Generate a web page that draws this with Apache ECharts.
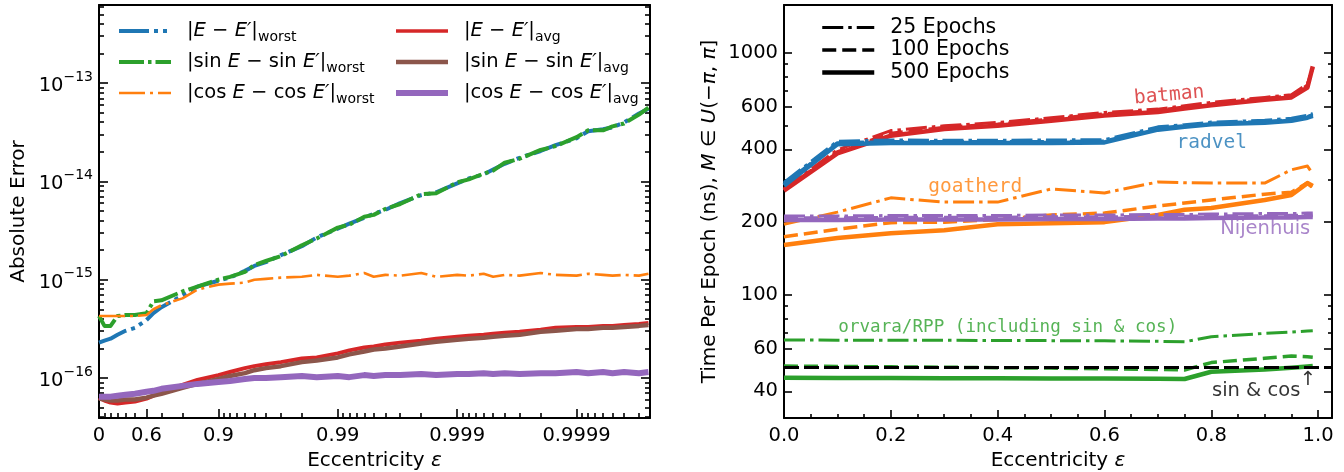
<!DOCTYPE html>
<html><head><meta charset="utf-8">
<script src="https://cdn.jsdelivr.net/npm/echarts@6/dist/echarts.min.js"></script>
<style>html,body{margin:0;padding:0;background:#fff}#c{width:1344px;height:472px}</style>
</head><body><div id="c"></div><script>
// ---------------- LEFT PANEL DATA ----------------
const eccLeft = [0, 0.1, 0.2, 0.3, 0.4, 0.5, 0.6, 0.65, 0.7, 0.8, 0.85,
  0.9, 0.92, 0.94, 0.95, 0.96, 0.97, 0.98, 0.985,
  0.99, 0.992, 0.994, 0.995, 0.996, 0.997, 0.998, 0.9985,
  0.999, 0.9992, 0.9994, 0.9995, 0.9996, 0.9997, 0.9998, 0.99985,
  0.9999, 0.99992, 0.99994, 0.99995, 0.99996, 0.99997, 0.999975];
const errEworst = [2.29e-16, 2.40e-16, 2.51e-16, 2.75e-16, 3.02e-16, 3.24e-16, 3.89e-16, 4.57e-16, 5.25e-16, 6.92e-16, 8.51e-16,
  9.77e-16, 1.05e-15, 1.23e-15, 1.38e-15, 1.51e-15, 1.78e-15, 2.19e-15, 2.69e-15,
  3.31e-15, 3.72e-15, 4.27e-15, 4.68e-15, 5.13e-15, 6.03e-15, 7.24e-15, 7.76e-15,
  9.55e-15, 1.07e-14, 1.18e-14, 1.32e-14, 1.51e-14, 1.74e-14, 2.04e-14, 2.34e-14,
  2.75e-14, 3.24e-14, 3.39e-14, 3.55e-14, 3.98e-14, 4.90e-14, 5.50e-14];
const errSinWorst = [4.27e-16, 3.39e-16, 3.39e-16, 4.27e-16, 4.37e-16, 4.37e-16, 4.57e-16, 6.03e-16, 6.17e-16, 7.59e-16, 8.51e-16,
  1.00e-15, 1.07e-15, 1.20e-15, 1.41e-15, 1.55e-15, 1.74e-15, 2.24e-15, 2.63e-15,
  3.39e-15, 3.63e-15, 4.37e-15, 4.57e-15, 5.25e-15, 5.89e-15, 7.41e-15, 7.59e-15,
  9.77e-15, 1.05e-14, 1.20e-14, 1.29e-14, 1.55e-14, 1.70e-14, 2.09e-14, 2.29e-14,
  2.82e-14, 3.31e-14, 3.31e-14, 3.63e-14, 3.89e-14, 4.79e-14, 5.62e-14];
const errCosWorst = [4.27e-16, 4.27e-16, 4.27e-16, 4.27e-16, 4.27e-16, 4.27e-16, 4.37e-16, 5.01e-16, 5.50e-16, 6.46e-16, 7.94e-16,
  8.91e-16, 9.12e-16, 9.33e-16, 1.00e-15, 1.02e-15, 1.05e-15, 1.07e-15, 1.12e-15,
  1.07e-15, 1.10e-15, 1.17e-15, 1.07e-15, 1.12e-15, 1.10e-15, 1.17e-15, 1.07e-15,
  1.12e-15, 1.10e-15, 1.15e-15, 1.07e-15, 1.12e-15, 1.10e-15, 1.17e-15, 1.12e-15,
  1.10e-15, 1.15e-15, 1.12e-15, 1.10e-15, 1.12e-15, 1.10e-15, 1.15e-15];
const errEavg = [6.31e-17, 5.89e-17, 5.62e-17, 5.50e-17, 5.62e-17, 5.75e-17, 6.17e-17, 6.61e-17, 7.08e-17, 8.51e-17, 9.55e-17,
  1.07e-16, 1.15e-16, 1.26e-16, 1.32e-16, 1.38e-16, 1.45e-16, 1.58e-16, 1.62e-16,
  1.78e-16, 1.91e-16, 2.04e-16, 2.09e-16, 2.19e-16, 2.29e-16, 2.40e-16, 2.51e-16,
  2.63e-16, 2.69e-16, 2.75e-16, 2.82e-16, 2.88e-16, 2.95e-16, 3.09e-16, 3.24e-16,
  3.31e-16, 3.31e-16, 3.39e-16, 3.39e-16, 3.47e-16, 3.55e-16, 3.63e-16];
const errSinAvg = [6.17e-17, 6.03e-17, 5.89e-17, 5.89e-17, 6.03e-17, 6.03e-17, 6.31e-17, 6.61e-17, 6.92e-17, 7.94e-17, 8.71e-17,
  9.77e-17, 1.05e-16, 1.12e-16, 1.20e-16, 1.26e-16, 1.32e-16, 1.45e-16, 1.51e-16,
  1.62e-16, 1.74e-16, 1.86e-16, 1.95e-16, 2.00e-16, 2.09e-16, 2.24e-16, 2.34e-16,
  2.45e-16, 2.51e-16, 2.57e-16, 2.63e-16, 2.69e-16, 2.75e-16, 2.95e-16, 3.02e-16,
  3.16e-16, 3.16e-16, 3.24e-16, 3.24e-16, 3.31e-16, 3.39e-16, 3.47e-16];
const errCosAvg = [6.46e-17, 6.46e-17, 6.46e-17, 6.61e-17, 6.76e-17, 6.92e-17, 7.24e-17, 7.41e-17, 7.76e-17, 8.32e-17, 8.71e-17,
  9.12e-17, 9.33e-17, 9.77e-17, 1.00e-16, 1.00e-16, 1.02e-16, 1.05e-16, 1.02e-16,
  1.05e-16, 1.02e-16, 1.07e-16, 1.05e-16, 1.07e-16, 1.07e-16, 1.10e-16, 1.07e-16,
  1.10e-16, 1.10e-16, 1.12e-16, 1.10e-16, 1.12e-16, 1.10e-16, 1.12e-16, 1.12e-16,
  1.15e-16, 1.12e-16, 1.15e-16, 1.12e-16, 1.15e-16, 1.12e-16, 1.15e-16];
const leftMajorEcc = [0, 0.6, 0.9, 0.99, 0.999, 0.9999];
const leftMajorLabels = ['0', '0.6', '0.9', '0.99', '0.999', '0.9999'];
const leftMinorEcc = [0.1, 0.2, 0.3, 0.4, 0.5, 0.7, 0.8,
  0.91, 0.92, 0.93, 0.94, 0.95, 0.96, 0.97, 0.98,
  0.991, 0.992, 0.993, 0.994, 0.995, 0.996, 0.997, 0.998,
  0.9991, 0.9992, 0.9993, 0.9994, 0.9995, 0.9996, 0.9997, 0.9998,
  0.99991, 0.99992, 0.99993, 0.99994, 0.99995, 0.99996, 0.99997];
const leftDecades = [-16, -15, -14, -13];

// ---------------- RIGHT PANEL DATA ----------------
const eccRight = [0, 0.1, 0.2, 0.3, 0.4, 0.5, 0.6, 0.7, 0.75, 0.8, 0.9, 0.95, 0.98, 0.99];
const batman25  = [275, 398, 478, 500, 516, 540, 568, 586, 605, 625, 655, 672, 745, 860];
const batman100 = [272, 390, 465, 492, 508, 533, 560, 578, 598, 615, 648, 664, 735, 870];
const batman500 = [270, 385, 455, 485, 500, 525, 552, 570, 590, 608, 640, 655, 720, 880];
const radvel25  = [292, 432, 437, 436, 436, 437, 438, 495, 505, 518, 527, 537, 552, 562];
const radvel100 = [287, 425, 430, 430, 430, 430, 432, 488, 500, 512, 520, 530, 545, 556];
const radvel500 = [283, 420, 425, 425, 425, 425, 427, 482, 495, 508, 515, 525, 540, 550];
const goat25  = [196, 220, 252, 242, 242, 274, 264, 293, 291, 290, 290, 329, 341, 316];
const goat100 = [174, 187, 199, 200, 205, 214, 218, 233, 240, 247, 261, 266, 290, 277];
const goat500 = [161, 172, 180, 185, 196, 198, 200, 214, 225, 229, 247, 259, 290, 282];
const nij25  = [212, 212, 213, 213, 213, 214, 214, 215, 215, 216, 217, 217, 218, 218];
const nij100 = [208, 208, 209, 209, 209, 210, 210, 211, 211, 212, 212, 213, 213, 213];
const nij500 = [204, 204, 205, 205, 205, 206, 206, 207, 207, 208, 209, 209, 210, 210];
const orv25  = [65.2, 65.1, 65.0, 65.0, 64.9, 64.8, 64.7, 64.4, 64.1, 67.3, 69.4, 70.3, 71.0, 71.2];
const orv100 = [50.9, 50.7, 50.5, 50.3, 50.1, 49.9, 49.6, 49.3, 49.0, 52.6, 54.8, 56.0, 55.6, 55.3];
const orv500 = [45.5, 45.4, 45.4, 45.3, 45.3, 45.2, 45.2, 45.1, 45.0, 48.2, 49.3, 50.1, 50.7, 50.9];
const sinCosTime = 50;
const rightLabelTicks = [40, 60, 100, 200, 400, 600, 1000];
const rightMinorTicks = [50, 70, 80, 90, 300, 500, 700, 800, 900];
const rightXLabels = [0, 0.2, 0.4, 0.6, 0.8, 1.0];
const rightXMinor = [0.05, 0.1, 0.15, 0.25, 0.3, 0.35, 0.45, 0.5, 0.55, 0.65, 0.7, 0.75, 0.85, 0.9, 0.95];
const rightNotes = [
  {text: 'batman', x: 0.721, y: 668, color: '#d62728', mono: true, rotate: 5, size: 19.5},
  {text: 'radvel', x: 0.801, y: 425, color: '#1f77b4', mono: true, size: 19.5},
  {text: 'goatherd', x: 0.358, y: 279, color: '#ff7f0e', mono: true, size: 19.5},
  {text: 'Nijenhuis', x: 0.901, y: 187, color: '#9467bd', mono: false, size: 19.5},
  {text: 'orvara/RPP (including sin & cos)', x: 0.419, y: 73.8, color: '#2ca02c', mono: true, size: 17.6},
  {text: 'sin & cos', x: 0.884, y: 40.1, color: '#000', mono: false, size: 19.5},
  {text: '↑', x: 0.981, y: 44.6, color: '#000', mono: false, size: 19.5}
];

// ---------------- BUILD ----------------
const FF = 'DejaVu Sans';
const MONO = 'DejaVu Sans Mono';
const L10 = Math.log10;
const toU = e => e === 0 ? 0 : -Math.log10(1 - e);
const C = {blue: '#1f77b4', orange: '#ff7f0e', green: '#2ca02c', red: '#d62728', purple: '#9467bd', brown: '#8c564b'};

const leftYMin = -16.407, leftYMax = -12.205;
const leftXMax = 4.615;
const rightYMin = 1.492, rightYMax = 3.198;
const rightXMax = 1.026;

const leftMinorY = [];
for (let d = -17; d <= -13; d++) for (let k = 2; k <= 9; k++) {
  const v = Math.log10(k) + d;
  if (v > leftYMin && v < leftYMax) leftMinorY.push(v);
}
const leftMajorU = leftMajorEcc.map(toU);
const axisLineS = {show: true, onZero: false, lineStyle: {color: '#000', width: 2}};
const tickS = (vals, len) => ({show: true, inside: true, length: len, customValues: vals, lineStyle: {color: '#000', width: 1.6}});
const noLab = {show: false};
const baseLab = {color: '#000', fontFamily: FF, fontSize: 19.5};

const nameRich = {
  n: {fontFamily: FF, fontSize: 20, color: '#000'},
  i: {fontFamily: FF, fontSize: 20, color: '#000', fontStyle: 'italic'}
};

function mkX(grid, min, max, pos, extra) {
  return Object.assign({gridIndex: grid, type: 'value', min, max, position: pos, splitLine: {show: false},
    axisLine: Object.assign({}, axisLineS), axisTick: {show: false}, axisLabel: noLab}, extra || {});
}
function mkY(grid, min, max, pos, extra) {
  return Object.assign({gridIndex: grid, type: 'value', min, max, position: pos, splitLine: {show: false},
    axisLine: Object.assign({}, axisLineS), axisTick: {show: false}, axisLabel: noLab}, extra || {});
}

const xAxes = [
  mkX(0, 0, leftXMax, 'bottom', {
    axisTick: tickS(leftMajorU, 9),
    axisLabel: Object.assign({}, baseLab, {show: true, margin: 8, customValues: leftMajorU,
      formatter: v => { let b = 0, bd = 1e9; leftMajorU.forEach((u, i) => { if (Math.abs(u - v) < bd) { bd = Math.abs(u - v); b = i; } }); return leftMajorLabels[b]; }}),
    name: '{n|Eccentricity }{i|ε}', nameLocation: 'middle', nameGap: 28, nameTextStyle: {rich: nameRich}
  }),
  mkX(0, 0, leftXMax, 'bottom', {axisLine: {show: false, onZero: false}, axisTick: tickS(leftMinorEcc.map(toU), 5)}),
  mkX(0, 0, leftXMax, 'top'),
  mkX(1, 0, rightXMax, 'bottom', {
    axisTick: tickS(rightXLabels, 8),
    axisLabel: Object.assign({}, baseLab, {show: true, margin: 8, customValues: rightXLabels, formatter: v => v.toFixed(1)}),
    name: '{n|Eccentricity }{i|ε}', nameLocation: 'middle', nameGap: 28, nameTextStyle: {rich: nameRich}
  }),
  mkX(1, 0, rightXMax, 'bottom', {axisLine: {show: false, onZero: false}, axisTick: tickS(rightXMinor, 4)}),
  mkX(1, 0, rightXMax, 'top')
];

const supRich = {
  b: {fontFamily: FF, fontSize: 19.5, color: '#000', lineHeight: 26, verticalAlign: 'bottom'},
  s: {fontFamily: FF, fontSize: 14, color: '#000', lineHeight: 18, verticalAlign: 'top'}
};
const yAxes = [
  mkY(0, leftYMin, leftYMax, 'left', {
    axisTick: tickS(leftDecades, 9),
    axisLabel: {show: true, margin: 6, customValues: leftDecades, formatter: v => '{b|10}{s|−' + Math.round(-v) + '}', rich: supRich},
    name: 'Absolute Error', nameLocation: 'middle', nameGap: 70, nameTextStyle: {fontFamily: FF, fontSize: 20, color: '#000'}
  }),
  mkY(0, leftYMin, leftYMax, 'left', {axisLine: {show: false, onZero: false}, axisTick: tickS(leftMinorY, 5)}),
  mkY(0, leftYMin, leftYMax, 'right', {axisTick: tickS(leftDecades, 9)}),
  mkY(0, leftYMin, leftYMax, 'right', {axisLine: {show: false, onZero: false}, axisTick: tickS(leftMinorY, 5)}),
  mkY(1, rightYMin, rightYMax, 'left', {
    axisTick: tickS(rightLabelTicks.map(L10), 8),
    axisLabel: Object.assign({}, baseLab, {show: true, margin: 6, customValues: rightLabelTicks.map(L10), formatter: v => String(Math.round(Math.pow(10, v)))}),
    name: '{n|Time Per Epoch (ns), }{i|M}{n| ∈ }{i|U}{n|(−}{i|π}{n|, }{i|π}{n|]}', nameLocation: 'middle', nameGap: 64,
    nameTextStyle: {rich: nameRich}
  }),
  mkY(1, rightYMin, rightYMax, 'left', {axisLine: {show: false, onZero: false}, axisTick: tickS(rightMinorTicks.map(L10), 4)}),
  mkY(1, rightYMin, rightYMax, 'right', {axisTick: tickS(rightLabelTicks.map(L10), 8)}),
  mkY(1, rightYMin, rightYMax, 'right', {axisLine: {show: false, onZero: false}, axisTick: tickS(rightMinorTicks.map(L10), 4)})
];

const leftPairs = vals => eccLeft.map((e, i) => [toU(e), L10(vals[i])]);
const rightPairs = vals => eccRight.map((e, i) => [e, L10(vals[i])]);

function lineL(name, vals, color, width, dash, z) {
  return {name, type: 'line', xAxisIndex: 0, yAxisIndex: 0, data: leftPairs(vals), symbol: 'none', showSymbol: false,
    lineStyle: {color, width, type: dash || 'solid', cap: 'butt', join: 'round'}, itemStyle: {color}, z: z || 2, silent: true};
}
const DD = {d25: [21, 5, 3.5, 5], d100: [14, 6], d500: 'solid'};
const W = {d25: 3, d100: 3.5, d500: 4.5};
function lineR(name, vals, color, key, z) {
  return {name, type: 'line', xAxisIndex: 3, yAxisIndex: 4, data: rightPairs(vals), symbol: 'none', showSymbol: false,
    lineStyle: {color, width: W[key], type: DD[key], cap: 'butt', join: 'round'}, itemStyle: {color}, z: z || 2, silent: true};
}

const series = [
  lineL('Ew', errEworst, C.blue, 4, [30, 5, 4, 5, 4, 5], 2),
  lineL('Sw', errSinWorst, C.green, 4, [25, 4, 3.5, 4], 3),
  lineL('Cw', errCosWorst, C.orange, 2.6, [26, 5, 3, 5], 4),
  lineL('Ea', errEavg, C.red, 4, null, 5),
  lineL('Sa', errSinAvg, C.brown, 4.5, null, 6),
  lineL('Ca', errCosAvg, C.purple, 6, null, 7),
  lineR('b500', batman500, C.red, 'd500'), lineR('b100', batman100, C.red, 'd100'), lineR('b25', batman25, C.red, 'd25'),
  lineR('r500', radvel500, C.blue, 'd500'), lineR('r100', radvel100, C.blue, 'd100'), lineR('r25', radvel25, C.blue, 'd25'),
  lineR('g500', goat500, C.orange, 'd500'), lineR('g100', goat100, C.orange, 'd100'), lineR('g25', goat25, C.orange, 'd25'),
  lineR('n500', nij500, C.purple, 'd500'), lineR('n100', nij100, C.purple, 'd100'), lineR('n25', nij25, C.purple, 'd25'),
  lineR('o500', orv500, C.green, 'd500'), lineR('o100', orv100, C.green, 'd100'), lineR('o25', orv25, C.green, 'd25'),
  {name: 'sincos', type: 'line', xAxisIndex: 3, yAxisIndex: 4, data: [], symbol: 'none', silent: true,
    markLine: {silent: true, symbol: 'none', label: {show: false},
      lineStyle: {color: '#000', width: 3, type: [15, 5], cap: 'butt'},
      data: [{yAxis: L10(sinCosTime)}]}},
  lineR('25 Epochs', [], '#000', 'd25'),
  lineR('100 Epochs', [], '#000', 'd100'),
  lineR('500 Epochs', [], '#000', 'd500'),
  {type: 'scatter', xAxisIndex: 3, yAxisIndex: 4, silent: true, symbolSize: 1, itemStyle: {color: 'transparent'}, z: 10,
    data: rightNotes.map(n => ({value: [n.x, L10(n.y)],
      label: {show: true, position: 'inside', formatter: n.text, color: n.color, fontSize: n.size,
        fontFamily: n.mono ? MONO : FF, rotate: n.rotate || 0}}))}
];

const legRich = {
  sp: {width: 11},
  n: {fontFamily: FF, fontSize: 19.5, color: '#000', lineHeight: 26},
  i: {fontFamily: FF, fontSize: 19.5, color: '#000', lineHeight: 26, fontStyle: 'italic'},
  s: {fontFamily: FF, fontSize: 14, color: '#000', lineHeight: 14, verticalAlign: 'bottom'}
};
const legNames = {
  Ew: '{sp| }{n||}{i|E}{n| − }{i|E′}{n||}{s|worst}',
  Sw: '{sp| }{n||sin }{i|E}{n| − sin }{i|E′}{n||}{s|worst}',
  Cw: '{sp| }{n||cos }{i|E}{n| − cos }{i|E′}{n||}{s|worst}',
  Ea: '{sp| }{n||}{i|E}{n| − }{i|E′}{n||}{s|avg}',
  Sa: '{sp| }{n||sin }{i|E}{n| − sin }{i|E′}{n||}{s|avg}',
  Ca: '{sp| }{n||cos }{i|E}{n| − cos }{i|E′}{n||}{s|avg}'
};
const legW = {Ew: 4, Sw: 4, Cw: 2.6, Ea: 3.5, Sa: 4.5, Ca: 6, '25 Epochs': 3, '100 Epochs': 3.5, '500 Epochs': 4.5};
const legItems = names => names.map(nm => ({name: nm, lineStyle: {width: legW[nm]}}));
const legBase = {orient: 'vertical', itemWidth: 52, itemHeight: 4, selectedMode: false, padding: 0,
  itemStyle: {opacity: 0, borderWidth: 0},
  formatter: nm => legNames[nm] || nm, textStyle: {rich: legRich}};

const option = {
  animation: false,
  backgroundColor: '#fff',
  grid: [
    {left: 99, top: 5, width: 551, height: 413, outerBoundsMode: 'none', containLabel: false},
    {left: 784, top: 5, width: 548, height: 413, outerBoundsMode: 'none', containLabel: false}
  ],
  xAxis: xAxes,
  yAxis: yAxes,
  legend: [
    Object.assign({}, legBase, {left: 117, top: 21, itemGap: 8, data: legItems(['Ew', 'Sw', 'Cw'])}),
    Object.assign({}, legBase, {left: 393, top: 21, itemGap: 8, data: legItems(['Ea', 'Sa', 'Ca'])}),
    {orient: 'vertical', left: 820, top: 17, itemWidth: 52, itemHeight: 4, itemGap: 1.5, selectedMode: false, padding: 0,
      itemStyle: {opacity: 0, borderWidth: 0},
      data: legItems(['25 Epochs', '100 Epochs', '500 Epochs']),
      formatter: nm => '{sp| }{n|' + nm + '}',
      textStyle: {rich: {sp: {width: 11}, n: {fontFamily: FF, fontSize: 20.5, color: '#000', lineHeight: 22}}}}
  ],
  series
};
const chart = echarts.init(document.getElementById('c'), null, {renderer: 'canvas'});
chart.setOption(option);
</script></body></html>
